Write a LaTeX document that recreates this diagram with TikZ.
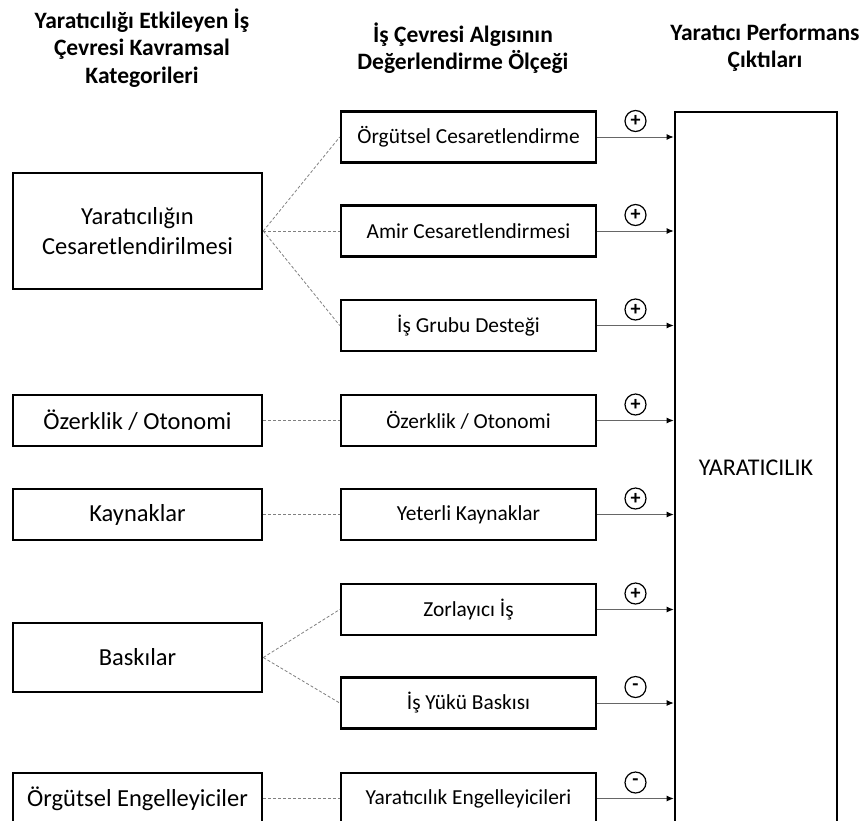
\documentclass[tikz,border=0pt]{standalone}
\usepackage{fontspec}
\setmainfont{Carlito}
\usetikzlibrary{arrows.meta}

\begin{document}
\begin{tikzpicture}[x=1pt, y=-1pt, >={Latex[length=7pt, width=6pt, color=black]},
    catbox/.style={draw, line width=2.6pt, minimum width=249pt, minimum height=51pt, align=center, font=\fontsize{24.5}{30}\selectfont},
    scalebox/.style={draw, line width=2.6pt, minimum width=255pt, minimum height=51pt, font=\fontsize{21.4}{26}\selectfont},
    head/.style={align=center, font=\bfseries\fontsize{23.5}{27.5}\selectfont},
    link/.style={densely dashed, gray, line width=0.8pt},
    effect/.style={->, gray!80!black, line width=1pt},
    signmark/.style={draw=black, circle, line width=1.2pt, minimum size=21pt, inner sep=0pt, text=black, font=\bfseries\fontsize{20}{20}\selectfont}]
    \useasboundingbox (0,0) rectangle (859,820);
    \clip (0,0) rectangle (859,820);
    \node[head] (head_cat) at (142,48) {Yaratıcılığı Etkileyen İş\\Çevresi Kavramsal\\Kategorileri};
    \node[head] (head_scale) at (463,48) {İş Çevresi Algısının\\Değerlendirme Ölçeği};
    \node[head] (head_out) at (765,48) {Yaratıcı Performans\\Çıktıları};
    \node[catbox, minimum height=116pt] (cat_enc) at (137.5,231) {Yaratıcılığın\\Cesaretlendirilmesi};
    \node[catbox] (cat_auto) at (137.5,420.5) {Özerklik / Otonomi};
    \node[catbox] (cat_res) at (137.5,514.5) {Kaynaklar};
    \node[catbox, minimum height=69pt] (cat_press) at (137.5,657.5) {Baskılar};
    \node[catbox] (cat_imp) at (137.5,798.5) {Örgütsel Engelleyiciler};
    \node[scalebox] (sc_org) at (468.5,137) {Örgütsel Cesaretlendirme};
    \node[scalebox] (sc_sup) at (468.5,231) {Amir Cesaretlendirmesi};
    \node[scalebox] (sc_grp) at (468.5,325.5) {İş Grubu Desteği};
    \node[scalebox] (sc_auto) at (468.5,420.5) {Özerklik / Otonomi};
    \node[scalebox] (sc_res) at (468.5,514.5) {Yeterli Kaynaklar};
    \node[scalebox] (sc_chal) at (468.5,609.5) {Zorlayıcı İş};
    \node[scalebox] (sc_load) at (468.5,703) {İş Yükü Baskısı};
    \node[scalebox] (sc_imp) at (468.5,798.5) {Yaratıcılık Engelleyicileri};
    \node[draw, line width=2.6pt, minimum width=162pt, minimum height=736pt] (out) at (756,480) {};
    \node[font=\fontsize{24}{28}\selectfont] (out_text) at (756,468) {YARATICILIK};
    \draw[link] (cat_enc.east) -- (sc_org.west);
    \draw[link] (cat_enc.east) -- (sc_sup.west);
    \draw[link] (cat_enc.east) -- (sc_grp.west);
    \draw[link] (cat_auto) -- (sc_auto);
    \draw[link] (cat_res) -- (sc_res);
    \draw[link] (cat_press.east) -- (sc_chal.west);
    \draw[link] (cat_press.east) -- (sc_load.west);
    \draw[link] (cat_imp) -- (sc_imp);
    \draw[effect] (sc_org.east) -- (sc_org.east -| out.west) node[signmark, midway, yshift=16pt] {+};
    \draw[effect] (sc_sup.east) -- (sc_sup.east -| out.west) node[signmark, midway, yshift=16pt] {+};
    \draw[effect] (sc_grp.east) -- (sc_grp.east -| out.west) node[signmark, midway, yshift=16pt] {+};
    \draw[effect] (sc_auto.east) -- (sc_auto.east -| out.west) node[signmark, midway, yshift=16pt] {+};
    \draw[effect] (sc_res.east) -- (sc_res.east -| out.west) node[signmark, midway, yshift=16pt] {+};
    \draw[effect] (sc_chal.east) -- (sc_chal.east -| out.west) node[signmark, midway, yshift=16pt] {+};
    \draw[effect] (sc_load.east) -- (sc_load.east -| out.west) node[signmark, midway, yshift=16pt] {-};
    \draw[effect] (sc_imp.east) -- (sc_imp.east -| out.west) node[signmark, midway, yshift=16pt] {-};
\end{tikzpicture}
\end{document}
